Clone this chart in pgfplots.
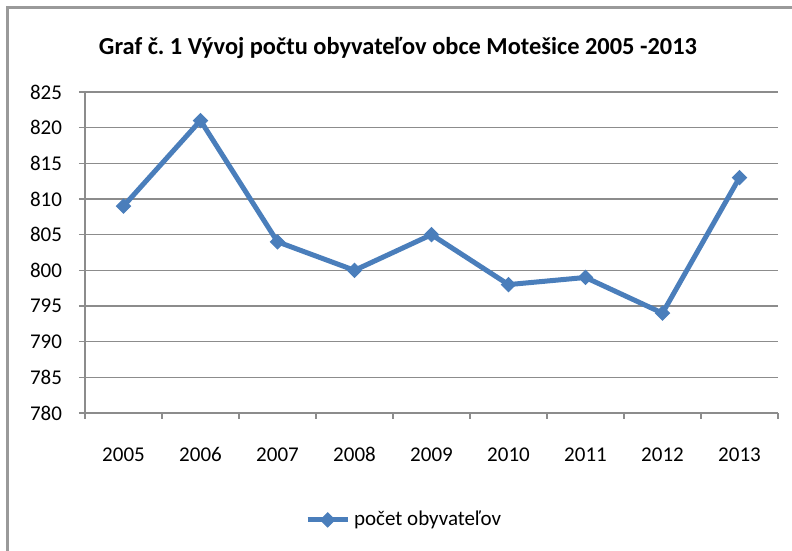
\documentclass[border=0pt]{standalone}
\usepackage{fontspec}
\setmainfont{Carlito}
\usepackage{pgfplots}
\pgfplotsset{compat=1.18}
\frenchspacing
\definecolor{exblue}{HTML}{4A7EBB}
\definecolor{gridgray}{HTML}{8C8C8C}
\definecolor{framegray}{HTML}{9A9A9A}
\begin{document}
\begin{tikzpicture}
\useasboundingbox (0,0) rectangle (396pt,275.5pt);
\draw[framegray, line width=1.5pt] (3.5pt,0) -- (3.5pt,271.5pt) -- (396pt,271.5pt);
\node[font=\fontsize{12.2}{14}\selectfont\bfseries] at (199pt,251.5pt) {Graf č. 1 Vývoj počtu obyvateľov obce Motešice 2005 -2013};
\begin{axis}[
  at={(42.5pt,69pt)}, anchor=south west, scale only axis,
  width=346.5pt, height=160.5pt,
  xmin=-0.5, xmax=8.5, ymin=780, ymax=825,
  ytick={780,785,...,825},
  xtick={-0.5,0.5,...,8.5},
  x tick label as interval,
  xticklabels={2005,2006,2007,2008,2009,2010,2011,2012,2013},
  axis lines*=left,
  axis line style={gridgray, line width=0.75pt},
  tick style={gridgray, line width=0.75pt},
  tick align=outside,
  major tick length=3pt,
  ymajorgrids,
  major grid style={gridgray, line width=0.75pt},
  /pgf/number format/assume math mode=true,
  /pgf/number format/1000 sep={},
  ticklabel style={font=\fontsize{10.5}{12}\selectfont, text=black},
  xticklabel style={yshift=-10.5pt, text height=7pt, text depth=0pt, anchor=north},
  yticklabel style={xshift=-5pt},
  legend style={at={(0.462,-0.333)}, anchor=center, draw=none, fill=none,
    font=\fontsize{10.5}{12}\selectfont, inner sep=0pt},
  legend image code/.code={\draw[mark repeat=2,mark phase=2] plot coordinates {(0pt,0pt) (10pt,0pt) (20pt,0pt)};},
  clip=false,
]
\addplot[exblue, line width=2.5pt, mark=square*, mark size=2.5pt,
  mark options={solid, line width=0.5pt, rotate=45}]
  coordinates {(0,809) (1,821) (2,804) (3,800) (4,805) (5,798) (6,799) (7,794) (8,813)};
\addlegendentry{počet obyvateľov}
\end{axis}
\end{tikzpicture}
\end{document}
